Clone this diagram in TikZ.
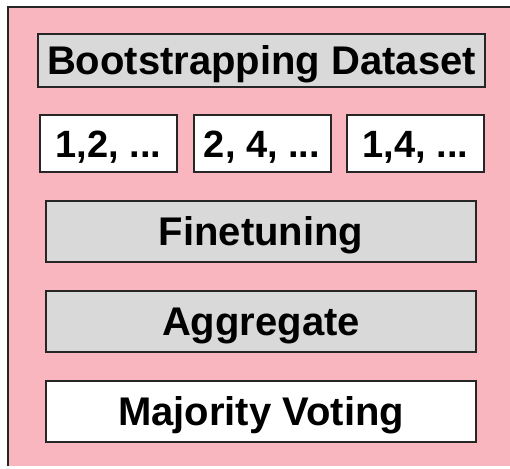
\documentclass[tikz,border=0pt]{standalone}
\usepackage{fontspec}
\setmainfont{Liberation Sans}
\definecolor{bagPink}{RGB}{250,182,190}
\definecolor{bagGray}{RGB}{217,217,217}
\definecolor{bagLine}{RGB}{38,38,38}
\usetikzlibrary{positioning}

\begin{document}
\begin{tikzpicture}[x=1pt, y=-1pt,
    stage/.style={rectangle, draw=bagLine, line width=2pt, fill=bagGray,
                  minimum width=430pt, minimum height=61pt, inner sep=0pt,
                  text height=28.6pt, text depth=0pt,
                  font=\fontsize{40}{46}\selectfont\bfseries},
    sample/.style={rectangle, draw=bagLine, line width=2pt, fill=white,
                   minimum width=137pt, minimum height=57pt, inner sep=0pt,
                   text height=27.2pt, text depth=0pt,
                   font=\fontsize{38}{44}\selectfont\bfseries}
  ]
  \useasboundingbox (0,0) rectangle (510,468);
  \fill[bagPink] (8,7) rectangle (510,466);
  \draw[bagLine, line width=2pt] (8,466) -- (8,7) -- (510,7);

  \node[stage, minimum width=447pt, minimum height=53pt] (boot) at (261.5,60.5)
    {Bootstrapping Dataset};

  \node[sample] (s1) at (108.5,143.5) {1,2, ...};
  \node[sample] (s2) at (262,143.5)   {2, 4, ...};
  \node[sample] (s3) at (415.5,143.5) {1,4, ...};

  \node[stage] (fine) at (261,231) {Finetuning};
  \node[stage] (agg)  at (261,321) {Aggregate};
  \node[stage, fill=white] (vote) at (261,411) {Majority Voting};
\end{tikzpicture}
\end{document}
